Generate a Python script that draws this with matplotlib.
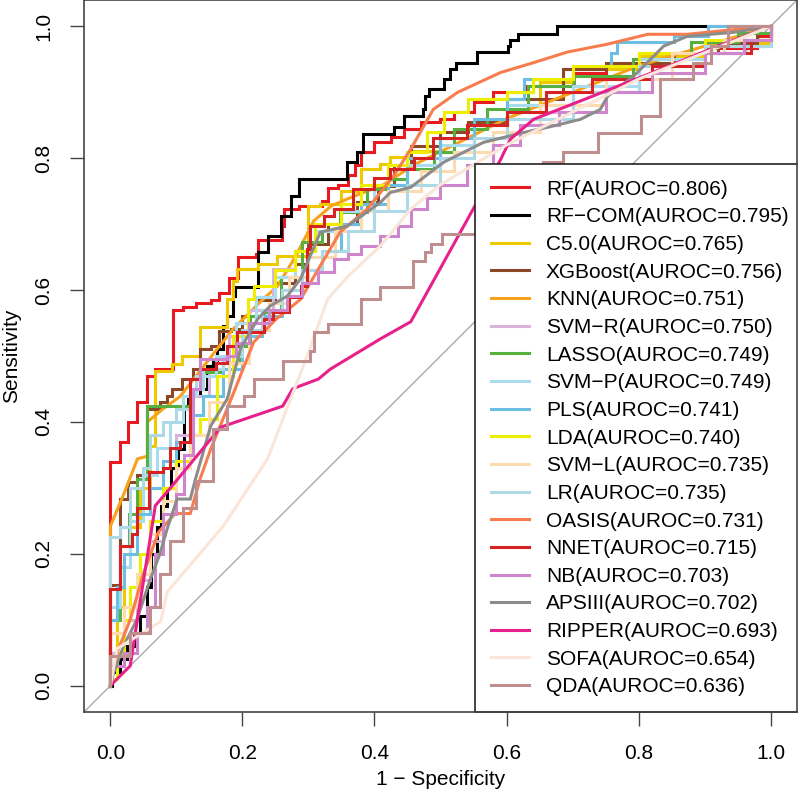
import matplotlib
matplotlib.use("Agg")
import matplotlib.pyplot as plt
from matplotlib.lines import Line2D

plt.rcParams['font.family'] = ['Liberation Sans', 'DejaVu Sans']

models = ["RF", "RF−COM", "C5.0", "XGBoost", "KNN", "SVM−R", "LASSO", "SVM−P", "PLS",
          "LDA", "SVM−L", "LR", "OASIS", "NNET", "NB", "APSIII", "RIPPER", "SOFA", "QDA"]
aurocs = ["0.806", "0.795", "0.765", "0.756", "0.751", "0.750", "0.749", "0.749", "0.741",
          "0.740", "0.735", "0.735", "0.731", "0.715", "0.703", "0.702", "0.693", "0.654", "0.636"]
colors = ["#E8191F", "#000000", "#EEC900", "#8B4726", "#F7A21B", "#D9B3DC", "#55B03F", "#A9DCEF",
          "#6DBEE3", "#EEEE00", "#FDDBAE", "#ADD8E6", "#F97C4E", "#D62222", "#CF85CC", "#8C8C8C",
          "#E8208C", "#FAE6D8", "#BF8F8F"]
# True -> staircase ROC, False -> straight segments
stepped = [True, True, True, True, False, True, True, True, True,
           True, True, True, False, True, True, False, False, False, True]

fpr_RF = [0, 0, 0.015, 0.027, 0.041, 0.055, 0.068, 0.095, 0.095, 0.11, 0.13, 0.152, 0.165, 0.18, 0.193, 0.22, 0.223, 0.26, 0.263, 0.285, 0.32, 0.33, 0.345, 0.36, 0.37, 0.38, 0.4, 0.425, 0.445, 0.47, 0.5, 0.52, 0.55, 0.58, 0.63, 0.7, 0.75, 0.8, 0.9, 0.98, 1]
tpr_RF = [0, 0.339, 0.37, 0.4, 0.43, 0.47, 0.48, 0.49, 0.57, 0.575, 0.58, 0.585, 0.595, 0.618, 0.65, 0.655, 0.676, 0.697, 0.723, 0.727, 0.735, 0.755, 0.76, 0.775, 0.79, 0.81, 0.825, 0.832, 0.845, 0.855, 0.86, 0.87, 0.885, 0.9, 0.91, 0.93, 0.94, 0.955, 0.967, 0.985, 1]

fpr_RFCOM = [0, 0.003, 0.015, 0.025, 0.035, 0.045, 0.055, 0.062, 0.07, 0.076, 0.085, 0.092, 0.103, 0.111, 0.117, 0.136, 0.147, 0.155, 0.162, 0.171, 0.177, 0.186, 0.189, 0.223, 0.239, 0.258, 0.273, 0.285, 0.359, 0.374, 0.383, 0.429, 0.444, 0.474, 0.477, 0.482, 0.505, 0.515, 0.523, 0.556, 0.602, 0.606, 0.618, 0.677, 1.0]
tpr_RFCOM = [0, 0.02, 0.04, 0.06, 0.08, 0.106, 0.15, 0.2, 0.24, 0.273, 0.3, 0.33, 0.359, 0.42, 0.439, 0.45, 0.485, 0.491, 0.511, 0.545, 0.561, 0.591, 0.605, 0.658, 0.682, 0.712, 0.742, 0.768, 0.795, 0.809, 0.836, 0.848, 0.864, 0.874, 0.894, 0.905, 0.92, 0.935, 0.945, 0.961, 0.970, 0.98, 0.988, 1.0, 1.0]

fpr_C50 = [0, 0, 0.01, 0.02, 0.03, 0.045, 0.06, 0.068, 0.094, 0.109, 0.136, 0.136, 0.177, 0.177, 0.185, 0.192, 0.224, 0.253, 0.3, 0.3, 0.318, 0.35, 0.379, 0.409, 0.424, 0.455, 0.5, 0.55, 0.6, 0.65, 0.7, 0.8, 0.9, 1]
tpr_C50 = [0, 0.05, 0.12, 0.18, 0.24, 0.3, 0.364, 0.477, 0.488, 0.5, 0.503, 0.544, 0.552, 0.586, 0.614, 0.632, 0.639, 0.652, 0.677, 0.727, 0.73, 0.75, 0.783, 0.791, 0.802, 0.811, 0.83, 0.85, 0.88, 0.915, 0.935, 0.955, 0.975, 1]

fpr_XGB = [0, 0, 0.015, 0.027, 0.041, 0.056, 0.075, 0.086, 0.094, 0.109, 0.125, 0.136, 0.152, 0.164, 0.182, 0.2, 0.22, 0.25, 0.28, 0.3, 0.33, 0.374, 0.405, 0.43, 0.455, 0.5, 0.541, 0.6, 0.686, 0.75, 0.853, 0.92, 0.98, 1]
tpr_XGB = [0, 0.152, 0.283, 0.309, 0.32, 0.42, 0.43, 0.439, 0.45, 0.465, 0.48, 0.511, 0.515, 0.538, 0.541, 0.56, 0.585, 0.61, 0.64, 0.67, 0.7, 0.733, 0.758, 0.79, 0.818, 0.84, 0.855, 0.89, 0.935, 0.945, 0.96, 0.975, 0.99, 1]

fpr_KNN = [0, 0, 0.02, 0.041, 0.056, 0.056, 0.08, 0.106, 0.13, 0.162, 0.186, 0.227, 0.253, 0.28, 0.308, 0.335, 0.368, 0.414, 0.46, 0.5, 0.55, 0.6, 0.7, 0.8, 0.9, 1]
tpr_KNN = [0, 0.242, 0.29, 0.344, 0.348, 0.4, 0.42, 0.439, 0.47, 0.511, 0.541, 0.582, 0.606, 0.65, 0.705, 0.728, 0.742, 0.76, 0.79, 0.81, 0.835, 0.86, 0.9, 0.94, 0.97, 1]

fpr_SVMR = [0, 0, 0.02, 0.04, 0.06, 0.08, 0.1, 0.12, 0.15, 0.18, 0.21, 0.247, 0.28, 0.31, 0.35, 0.4, 0.45, 0.5, 0.55, 0.6, 0.7, 0.8, 0.9, 1]
tpr_SVMR = [0, 0.05, 0.1, 0.16, 0.22, 0.3, 0.38, 0.44, 0.48, 0.53, 0.57, 0.632, 0.66, 0.69, 0.73, 0.76, 0.79, 0.82, 0.85, 0.87, 0.9, 0.94, 0.97, 1]

fpr_LASSO = [0, 0, 0.015, 0.028, 0.041, 0.056, 0.111, 0.125, 0.141, 0.17, 0.197, 0.212, 0.232, 0.258, 0.29, 0.32, 0.348, 0.389, 0.42, 0.45, 0.49, 0.52, 0.571, 0.632, 0.702, 0.792, 0.879, 0.95, 1]
tpr_LASSO = [0, 0.1, 0.212, 0.26, 0.314, 0.424, 0.424, 0.45, 0.476, 0.49, 0.515, 0.561, 0.567, 0.62, 0.673, 0.69, 0.718, 0.753, 0.768, 0.783, 0.81, 0.844, 0.874, 0.909, 0.924, 0.95, 0.976, 0.99, 1]

fpr_SVMP = [0, 0, 0.015, 0.03, 0.05, 0.07, 0.09, 0.11, 0.13, 0.16, 0.19, 0.22, 0.25, 0.28, 0.31, 0.35, 0.4, 0.45, 0.5, 0.55, 0.6, 0.7, 0.8, 0.9, 1]
tpr_SVMP = [0, 0.12, 0.18, 0.25, 0.32, 0.36, 0.4, 0.44, 0.47, 0.5, 0.55, 0.59, 0.62, 0.66, 0.69, 0.72, 0.76, 0.79, 0.82, 0.85, 0.88, 0.91, 0.95, 0.97, 1]

fpr_PLS = [0, 0, 0.01, 0.02, 0.04, 0.06, 0.08, 0.1, 0.12, 0.14, 0.17, 0.2, 0.23, 0.26, 0.29, 0.32, 0.35, 0.38, 0.42, 0.45, 0.5, 0.55, 0.6, 0.626, 0.7, 0.758, 0.768, 0.853, 0.905, 1]
tpr_PLS = [0, 0.1, 0.15, 0.2, 0.26, 0.3, 0.34, 0.37, 0.41, 0.44, 0.48, 0.53, 0.56, 0.6, 0.63, 0.66, 0.7, 0.73, 0.76, 0.8, 0.83, 0.86, 0.89, 0.92, 0.94, 0.96, 0.976, 0.985, 1.0, 1]

fpr_LDA = [0, 0, 0.01, 0.02, 0.03, 0.045, 0.06, 0.08, 0.1, 0.12, 0.136, 0.162, 0.185, 0.208, 0.217, 0.25, 0.28, 0.31, 0.35, 0.38, 0.42, 0.45, 0.48, 0.505, 0.541, 0.6, 0.64, 0.7, 0.8, 0.9, 1]
tpr_LDA = [0, 0.01, 0.05, 0.1, 0.15, 0.2, 0.25, 0.3, 0.34, 0.38, 0.405, 0.47, 0.53, 0.586, 0.606, 0.63, 0.66, 0.7, 0.73, 0.76, 0.79, 0.81, 0.84, 0.87, 0.89, 0.9, 0.92, 0.94, 0.96, 0.98, 1]

fpr_SVML = [0, 0, 0.02, 0.04, 0.06, 0.08, 0.1, 0.12, 0.15, 0.18, 0.21, 0.24, 0.27, 0.3, 0.34, 0.38, 0.42, 0.47, 0.52, 0.58, 0.65, 0.75, 0.85, 0.93, 1]
tpr_SVML = [0, 0.08, 0.12, 0.17, 0.23, 0.28, 0.33, 0.38, 0.43, 0.49, 0.54, 0.58, 0.62, 0.65, 0.69, 0.72, 0.75, 0.78, 0.81, 0.84, 0.88, 0.92, 0.96, 0.98, 1]

fpr_LR = [0, 0, 0.015, 0.03, 0.05, 0.06, 0.08, 0.1, 0.12, 0.14, 0.17, 0.2, 0.23, 0.26, 0.29, 0.32, 0.36, 0.4, 0.45, 0.5, 0.55, 0.6, 0.7, 0.8, 0.9, 1]
tpr_LR = [0, 0.225, 0.24, 0.3, 0.33, 0.38, 0.4, 0.42, 0.45, 0.48, 0.5, 0.54, 0.57, 0.6, 0.63, 0.66, 0.69, 0.72, 0.76, 0.8, 0.83, 0.86, 0.9, 0.94, 0.97, 1]

fpr_OASIS = [0, 0.01, 0.03, 0.05, 0.073, 0.098, 0.121, 0.136, 0.152, 0.185, 0.217, 0.25, 0.288, 0.348, 0.389, 0.429, 0.455, 0.489, 0.526, 0.591, 0.641, 0.692, 0.753, 0.814, 0.874, 0.944, 1]
tpr_OASIS = [0, 0.05, 0.1, 0.17, 0.233, 0.261, 0.261, 0.314, 0.359, 0.44, 0.521, 0.555, 0.586, 0.688, 0.723, 0.773, 0.814, 0.874, 0.9, 0.93, 0.945, 0.961, 0.973, 0.988, 0.988, 0.995, 1]

fpr_NNET = [0, 0, 0.015, 0.033, 0.041, 0.058, 0.08, 0.09, 0.106, 0.121, 0.136, 0.16, 0.177, 0.192, 0.232, 0.247, 0.27, 0.288, 0.298, 0.303, 0.323, 0.338, 0.368, 0.4, 0.424, 0.46, 0.489, 0.54, 0.6, 0.66, 0.73, 0.82, 0.9, 0.97, 1]
tpr_NNET = [0, 0.147, 0.212, 0.23, 0.27, 0.324, 0.33, 0.36, 0.37, 0.465, 0.48, 0.49, 0.515, 0.536, 0.556, 0.567, 0.59, 0.606, 0.662, 0.697, 0.712, 0.723, 0.753, 0.77, 0.783, 0.8, 0.83, 0.85, 0.87, 0.9, 0.92, 0.94, 0.96, 0.98, 1]

fpr_NB = [0, 0, 0.02, 0.04, 0.055, 0.068, 0.08, 0.1, 0.111, 0.125, 0.136, 0.177, 0.19, 0.21, 0.24, 0.268, 0.29, 0.314, 0.338, 0.36, 0.379, 0.409, 0.435, 0.455, 0.48, 0.5, 0.54, 0.58, 0.62, 0.68, 0.75, 0.82, 0.9, 0.96, 1]
tpr_NB = [0, 0.03, 0.05, 0.08, 0.12, 0.2, 0.26, 0.29, 0.35, 0.45, 0.495, 0.5, 0.52, 0.55, 0.57, 0.591, 0.61, 0.627, 0.647, 0.655, 0.667, 0.682, 0.697, 0.723, 0.74, 0.76, 0.79, 0.82, 0.85, 0.87, 0.9, 0.93, 0.96, 0.98, 1]

fpr_APSIII = [0, 0.005, 0.02, 0.04, 0.06, 0.075, 0.086, 0.101, 0.121, 0.129, 0.152, 0.177, 0.197, 0.223, 0.242, 0.268, 0.288, 0.318, 0.359, 0.409, 0.424, 0.455, 0.505, 0.565, 0.626, 0.667, 0.712, 0.742, 0.753, 0.792, 0.838, 0.874, 0.944, 1]
tpr_APSIII = [0, 0.02, 0.06, 0.1, 0.16, 0.2, 0.238, 0.283, 0.283, 0.314, 0.394, 0.435, 0.511, 0.556, 0.576, 0.591, 0.617, 0.688, 0.697, 0.733, 0.748, 0.756, 0.794, 0.824, 0.839, 0.848, 0.859, 0.874, 0.894, 0.924, 0.97, 0.985, 0.991, 1]

fpr_RIPPER = [0, 0.03, 0.038, 0.068, 0.086, 0.167, 0.261, 0.276, 0.283, 0.315, 0.333, 0.409, 0.455, 0.591, 0.606, 0.641, 0.692, 0.768, 0.844, 0.92, 1]
tpr_RIPPER = [0, 0.03, 0.082, 0.273, 0.294, 0.392, 0.424, 0.45, 0.453, 0.465, 0.48, 0.526, 0.552, 0.798, 0.829, 0.859, 0.879, 0.909, 0.939, 0.97, 1]

fpr_SOFA = [0, 0.01, 0.076, 0.086, 0.171, 0.238, 0.298, 0.329, 0.359, 0.409, 0.455, 0.5, 0.6, 0.7, 0.8, 0.9, 1]
tpr_SOFA = [0, 0.056, 0.097, 0.142, 0.242, 0.344, 0.5, 0.586, 0.62, 0.667, 0.723, 0.76, 0.82, 0.87, 0.92, 0.96, 1]

fpr_QDA = [0, 0, 0.03, 0.06, 0.075, 0.09, 0.11, 0.13, 0.156, 0.177, 0.202, 0.217, 0.262, 0.303, 0.309, 0.329, 0.379, 0.409, 0.459, 0.477, 0.485, 0.503, 0.558, 0.583, 0.62, 0.656, 0.686, 0.738, 0.803, 0.833, 0.883, 0.909, 0.935, 1]
tpr_QDA = [0, 0.045, 0.08, 0.12, 0.17, 0.22, 0.27, 0.31, 0.389, 0.424, 0.439, 0.465, 0.492, 0.508, 0.536, 0.548, 0.586, 0.605, 0.644, 0.658, 0.67, 0.685, 0.712, 0.726, 0.76, 0.794, 0.809, 0.839, 0.864, 0.92, 0.945, 0.97, 1.0, 1]

fprs = [fpr_RF, fpr_RFCOM, fpr_C50, fpr_XGB, fpr_KNN, fpr_SVMR, fpr_LASSO, fpr_SVMP, fpr_PLS,
        fpr_LDA, fpr_SVML, fpr_LR, fpr_OASIS, fpr_NNET, fpr_NB, fpr_APSIII, fpr_RIPPER, fpr_SOFA, fpr_QDA]
tprs = [tpr_RF, tpr_RFCOM, tpr_C50, tpr_XGB, tpr_KNN, tpr_SVMR, tpr_LASSO, tpr_SVMP, tpr_PLS,
        tpr_LDA, tpr_SVML, tpr_LR, tpr_OASIS, tpr_NNET, tpr_NB, tpr_APSIII, tpr_RIPPER, tpr_SOFA, tpr_QDA]

ticks = [0.0, 0.2, 0.4, 0.6, 0.8, 1.0]
tick_labels = ["0.0", "0.2", "0.4", "0.6", "0.8", "1.0"]

fig = plt.figure(figsize=(7.98, 8.02), dpi=100)
ax = fig.add_axes([84 / 798, 90 / 802, 713 / 798, 712 / 802])
ax.set_xlim(-0.04, 1.04)
ax.set_ylim(-0.04, 1.04)

ax.axline((0, 0), (1, 1), color="#AAAAAA", lw=1.0, zorder=1)

lw = 2.2
handles = []
for i, name in enumerate(models):
    ds = 'steps-post' if stepped[i] else 'default'
    ax.plot(fprs[i], tprs[i], color=colors[i], lw=lw, drawstyle=ds, zorder=2 + i * 0.01,
            solid_joinstyle='miter')
    handles.append(Line2D([], [], color=colors[i], lw=lw, label=f"{name}(AUROC={aurocs[i]})"))

fs = 15
ax.set_xticks(ticks)
ax.set_xticklabels(tick_labels)
ax.set_yticks(ticks)
ax.set_yticklabels(tick_labels, rotation=90, va='center')
ax.tick_params(axis='x', length=10, width=1, color="#444444", labelsize=fs, pad=13)
ax.tick_params(axis='y', length=10, width=1, color="#444444", labelsize=fs, pad=12)
for s in ax.spines.values():
    s.set_color("#444444")
    s.set_linewidth(1.2)
    s.set_zorder(10)
ax.set_xlabel("1 − Specificity", fontsize=fs, labelpad=5)
ax.set_ylabel("Sensitivity", fontsize=fs, labelpad=10)

leg = ax.legend(handles=handles, loc='lower right', bbox_to_anchor=(1.0 + 7 / 713, 0.0),
                borderaxespad=0, fontsize=fs, frameon=True, fancybox=False, edgecolor="#222222",
                framealpha=1, handlelength=1.85, handletextpad=0.8, labelspacing=0.415,
                borderpad=0.75)
leg.get_frame().set_linewidth(1.2)
leg.set_zorder(5)

fig.savefig("out.png", dpi=100)
